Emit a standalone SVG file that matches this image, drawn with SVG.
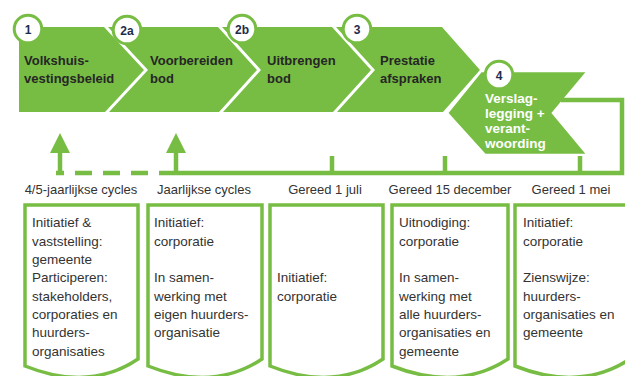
<svg xmlns="http://www.w3.org/2000/svg" width="625" height="376" viewBox="0 0 625 376">
<defs>
<style>
.band{fill:#77bd43}
.band4{fill:#77bd43;stroke:#fff;stroke-width:2.5;stroke-linejoin:miter}
.ring{fill:#fff;stroke:#77bd43;stroke-width:3}
.num{font-family:"Liberation Sans",Arial,sans-serif;font-weight:bold;font-size:12px;fill:#1e2b4a;text-anchor:middle}
.title{font-family:"Liberation Sans",Arial,sans-serif;font-weight:bold;font-size:13px;fill:#262626}
.title4{font-family:"Liberation Sans",Arial,sans-serif;font-weight:bold;font-size:13.5px;fill:#fff}
.doc{fill:#fff;stroke:#77bd43;stroke-width:3.5;stroke-linejoin:miter}
.body{font-family:"Liberation Sans",Arial,sans-serif;font-size:13.5px;fill:#333}
.lbl{font-family:"Liberation Sans",Arial,sans-serif;font-size:13px;fill:#333;text-anchor:middle}
.line{fill:none;stroke:#77bd43;stroke-width:4.5}
.dash{fill:none;stroke:#77bd43;stroke-width:4.5;stroke-dasharray:17 11}
</style>
<marker id="ah" markerUnits="userSpaceOnUse" markerWidth="20" markerHeight="20" viewBox="0 0 20 20" refX="0" refY="10" orient="auto">
<path d="M0,0 L20,10 L0,20 Z" fill="#77bd43"/>
</marker>
</defs>

<g id="step1">
<polygon class="band" points="19,27 104,27 144,70 105,112 19,112"/>
<circle class="ring" cx="28" cy="29" r="13.8"/>
<text class="num" x="28" y="33.5">1</text>
<text class="title" x="24" y="65">Volkshuis-</text>
<text class="title" x="24" y="83">vestingsbeleid</text>
</g>

<g id="step2a">
<polygon class="band" points="108,27 218,27 257,70 219,112 109,112 148,70"/>
<circle class="ring" cx="127" cy="30" r="13.8"/>
<text class="num" x="127" y="34.5">2a</text>
<text class="title" x="150" y="65">Voorbereiden</text>
<text class="title" x="150" y="83">bod</text>
</g>

<g id="step2b">
<polygon class="band" points="222,27 332,27 371,70 333,112 223,112 261,70"/>
<circle class="ring" cx="242" cy="29" r="13.8"/>
<text class="num" x="242" y="33.5">2b</text>
<text class="title" x="267" y="65">Uitbrengen</text>
<text class="title" x="267" y="83">bod</text>
</g>

<g id="step3">
<polygon class="band" points="336,27 442,27 480,70 443,112 337,112 375,70"/>
<circle class="ring" cx="357" cy="29" r="13.8"/>
<text class="num" x="357" y="33.5">3</text>
<text class="title" x="380" y="65">Prestatie</text>
<text class="title" x="380" y="83">afspraken</text>
</g>

<g id="step4">
<polygon class="band4" points="481,71 588,71 553,113 588,155 485,155 447,113"/>
<circle class="ring" cx="499" cy="75" r="13.8"/>
<text class="num" x="499" y="79.5">4</text>
<text class="title4" x="485" y="103">Verslag-</text>
<text class="title4" x="485" y="118">legging +</text>
<text class="title4" x="485" y="133">verant-</text>
<text class="title4" x="485" y="148">woording</text>
</g>

<g id="connectors">
<path class="line" d="M561,100 H622 V173 H176"/>
<path class="dash" d="M176,173 H56"/>
<path class="line" d="M60,175 V153" marker-end="url(#ah)"/>
<path class="line" d="M176,175 V153" marker-end="url(#ah)"/>
<path class="line" d="M332,173 V156"/>
<path class="line" d="M445,173 V156"/>
<path class="line" d="M580,173 V156"/>
</g>

<g id="labels">
<text class="lbl" x="81" y="194">4/5-jaarlijkse cycles</text>
<text class="lbl" x="204" y="194">Jaarlijkse cycles</text>
<text class="lbl" x="325" y="194">Gereed 1 juli</text>
<text class="lbl" x="450" y="194">Gereed 15 december</text>
<text class="lbl" x="571" y="194">Gereed 1 mei</text>
</g>

<g id="box1">
<path class="doc" d="M25,205 H138 V359 C104.1,382 64.55,382 25,366 Z"/>
<text class="body" x="32" y="227">Initiatief &amp;<tspan x="32" y="245.5">vaststelling:</tspan><tspan x="32" y="264">gemeente</tspan><tspan x="32" y="282">Participeren:</tspan><tspan x="32" y="300.5">stakeholders,</tspan><tspan x="32" y="319">corporaties en</tspan><tspan x="32" y="337">huurders-</tspan><tspan x="32" y="355.5">organisaties</tspan></text>
</g>

<g id="box2">
<path class="doc" d="M148,205 H262 V359 C227.8,382 187.9,382 148,366 Z"/>
<text class="body" x="154" y="227">Initiatief:<tspan x="154" y="245.5">corporatie</tspan><tspan x="154" y="282">In samen-</tspan><tspan x="154" y="300.5">werking met</tspan><tspan x="154" y="319">eigen huurders-</tspan><tspan x="154" y="337">organisatie</tspan></text>
</g>

<g id="box3">
<path class="doc" d="M270,205 H383 V359 C349.1,382 309.55,382 270,366 Z"/>
<text class="body" x="277" y="282">Initiatief:<tspan x="277" y="300.5">corporatie</tspan></text>
</g>

<g id="box4">
<path class="doc" d="M392,205 H508 V359 C473.2,382 432.6,382 392,366 Z"/>
<text class="body" x="399" y="227">Uitnodiging:<tspan x="399" y="245.5">corporatie</tspan><tspan x="399" y="282">In samen-</tspan><tspan x="399" y="300.5">werking met</tspan><tspan x="399" y="319">alle huurders-</tspan><tspan x="399" y="337">organisaties en</tspan><tspan x="399" y="355.5">gemeente</tspan></text>
</g>

<g id="box5">
<path class="doc" d="M515,205 H630 V359 C595.5,382 555.25,382 515,366 Z"/>
<text class="body" x="523" y="227">Initiatief:<tspan x="523" y="245.5">corporatie</tspan><tspan x="523" y="282">Zienswijze:</tspan><tspan x="523" y="300.5">huurders-</tspan><tspan x="523" y="319">organisaties en</tspan><tspan x="523" y="337">gemeente</tspan></text>
</g>
</svg>
